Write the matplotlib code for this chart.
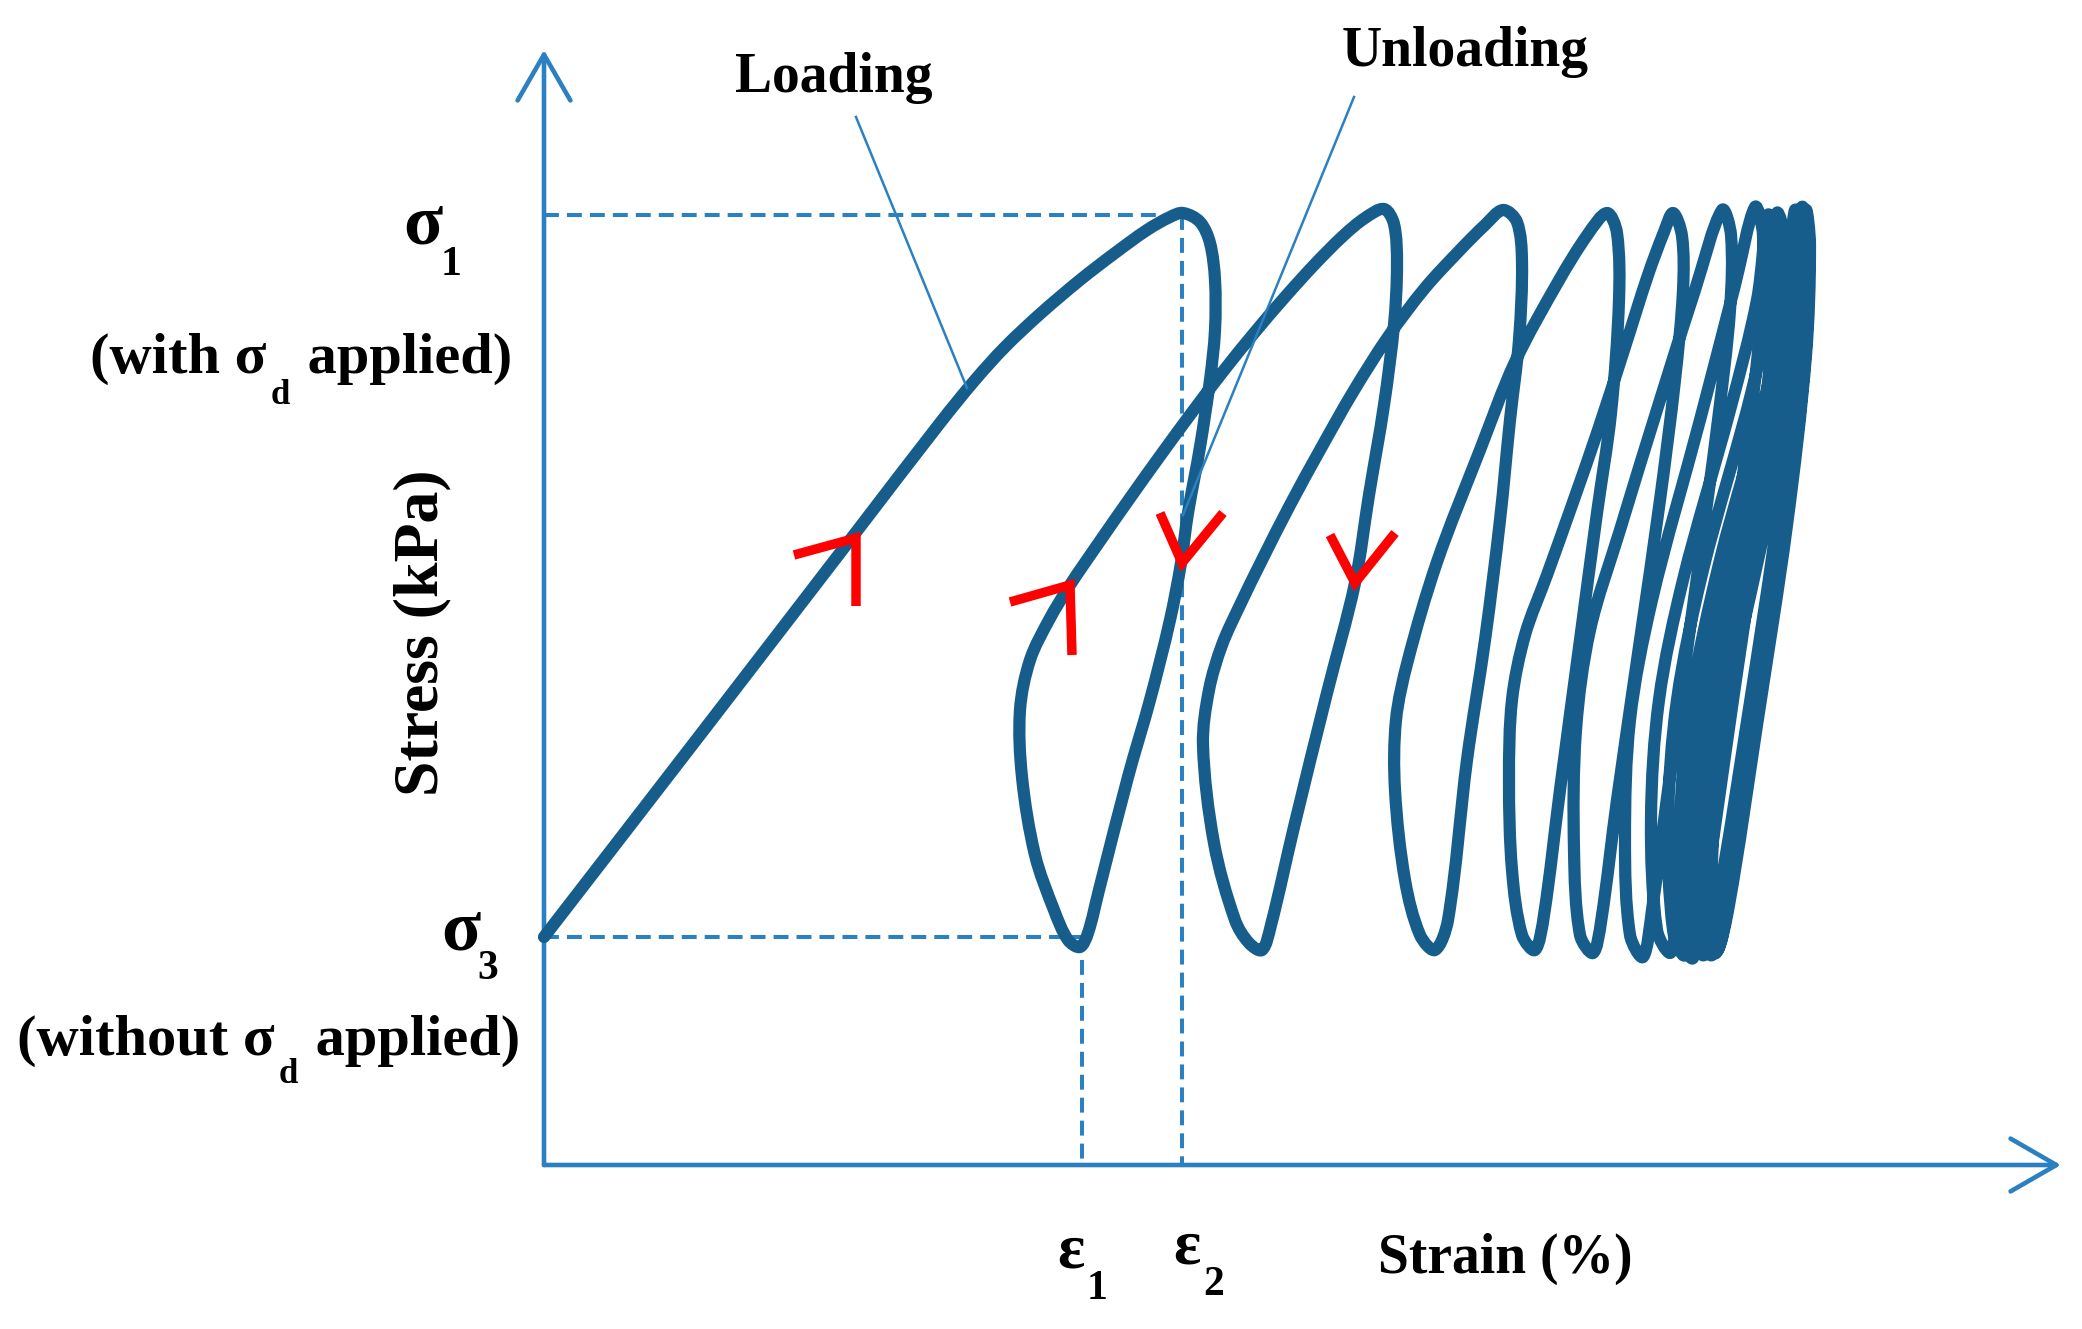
import numpy as np
import matplotlib
matplotlib.use("Agg")
import matplotlib.pyplot as plt
from matplotlib.path import Path
from matplotlib.patches import PathPatch

# ---------------- data (schematic units) ----------------
sigma1 = 9.50      # stress level with deviator stress applied
sigma3 = 2.28      # confining stress (without deviator stress)
eps1 = 5.38        # strain after first unloading
eps2 = 6.38        # strain at first peak

# repeated-load stress-strain path (waypoints)
strain = [0.00, 1.56, 3.16, 3.96, 4.31, 4.61, 4.96, 5.36, 5.71, 6.03, 6.26, 6.39,
          6.56, 6.66, 6.71, 6.71, 6.66, 6.56, 6.44, 6.37, 6.26, 6.06, 5.84, 5.55, 5.44, 5.36,
          5.24, 5.10, 4.91, 4.78, 4.76, 4.86, 5.05, 5.26,
          5.56, 5.86, 6.16, 6.49, 6.81, 7.11, 7.41, 7.71, 7.99, 8.21, 8.40,
          8.50, 8.53, 8.50, 8.40, 8.25, 8.11, 7.83, 7.50, 7.27, 7.18,
          7.05, 6.91, 6.70, 6.59, 6.65, 6.78, 6.96,
          7.18, 7.46, 7.76, 8.09, 8.44, 8.81, 9.16, 9.41, 9.59,
          9.73, 9.78, 9.75, 9.66, 9.56, 9.41, 9.23, 9.04, 8.91,
          8.76, 8.61, 8.51, 8.52, 8.64, 8.93,
          9.36, 9.71, 10.14, 10.44, 10.63,
          10.73, 10.75, 10.67, 10.53, 10.36, 10.16, 10.00, 9.91,
          9.78, 9.68, 9.65, 9.68, 9.81, 10.03,
          10.28, 10.54, 10.80, 11.04, 11.20, 11.29,
          11.38, 11.39, 11.31, 11.16, 10.96, 10.73, 10.57, 10.49,
          10.36, 10.30, 10.32, 10.46, 10.76,
          11.16, 11.51, 11.78,
          11.87, 11.86, 11.74, 11.54, 11.28, 11.08, 10.99,
          10.86, 10.81, 10.86, 11.08, 11.56, 11.91, 12.11,
          12.19, 12.16, 12.01, 11.76, 11.48, 11.32, 11.26,
          11.13, 11.07, 11.15, 11.39, 11.86, 12.13, 12.24,
          12.31, 12.28, 12.11, 11.84, 11.56, 11.41,
          11.29, 11.24, 11.33, 11.59, 12.08, 12.28, 12.33,
          12.41, 12.37, 12.18, 11.89, 11.63, 11.49,
          11.38, 11.36, 11.47, 11.76, 12.24, 12.44, 12.51,
          12.58, 12.54, 12.34, 12.04, 11.74, 11.60,
          11.48, 11.46, 11.56, 11.86, 12.34, 12.53, 12.58,
          12.65, 12.61, 12.41, 12.11, 11.82, 11.68,
          11.56, 11.56, 11.68, 11.98, 12.42, 12.58, 12.62,
          12.66, 12.62, 12.43, 12.13, 11.85, 11.72,
          11.62, 11.63, 11.76, 12.06, 12.48, 12.60, 12.62,
          12.65, 12.61, 12.42, 12.12, 11.84, 11.74,
          11.68, 11.70, 11.84, 12.14, 12.52, 12.61, 12.62,
          12.64, 12.59, 12.39, 12.09, 11.82, 11.72]
stress = [2.28, 4.30, 6.38, 7.42, 7.85, 8.18, 8.51, 8.85, 9.12, 9.35, 9.48, 9.52,
          9.43, 9.22, 8.85, 8.35, 7.85, 7.18, 6.52, 6.02, 5.45, 4.65, 3.88, 2.75, 2.32, 2.18,
          2.25, 2.55, 3.10, 3.88, 4.55, 5.05, 5.45, 5.80,
          6.24, 6.67, 7.09, 7.54, 7.96, 8.33, 8.68, 9.01, 9.29, 9.47, 9.56,
          9.41, 9.00, 8.40, 7.60, 6.70, 5.82, 4.72, 3.38, 2.40, 2.15,
          2.22, 2.45, 3.22, 4.20, 4.75, 5.20, 5.60,
          6.05, 6.60, 7.15, 7.73, 8.28, 8.77, 9.15, 9.40, 9.55,
          9.43, 9.03, 8.25, 7.45, 6.45, 5.25, 4.05, 2.45, 2.15,
          2.30, 2.85, 3.75, 4.45, 5.05, 6.03,
          7.15, 8.03, 8.83, 9.31, 9.52,
          9.32, 8.65, 7.52, 6.52, 5.25, 3.75, 2.50, 2.15,
          2.30, 2.95, 3.85, 4.65, 5.30, 5.90,
          6.60, 7.35, 8.15, 8.90, 9.33, 9.52,
          9.29, 8.75, 7.85, 6.65, 5.25, 3.65, 2.43, 2.12,
          2.30, 3.15, 4.35, 5.35, 6.35,
          7.65, 8.75, 9.55,
          9.30, 8.55, 7.45, 5.95, 4.05, 2.55, 2.08,
          2.30, 3.25, 4.45, 5.65, 7.45, 8.80, 9.58,
          9.30, 8.35, 7.05, 5.25, 3.25, 2.35, 2.12,
          2.35, 3.45, 4.65, 5.85, 7.55, 8.65, 9.50,
          9.25, 8.25, 6.75, 4.75, 2.85, 2.10,
          2.35, 3.45, 4.65, 5.95, 7.75, 8.75, 9.52,
          9.25, 8.25, 6.65, 4.65, 2.85, 2.07,
          2.35, 3.45, 4.65, 6.05, 7.80, 8.85, 9.55,
          9.25, 8.20, 6.50, 4.50, 2.65, 2.10,
          2.35, 3.45, 4.65, 6.05, 7.80, 8.93, 9.58,
          9.25, 8.20, 6.45, 4.45, 2.65, 2.10,
          2.35, 3.45, 4.65, 6.05, 7.85, 9.00, 9.55,
          9.20, 8.10, 6.40, 4.40, 2.60, 2.12,
          2.33, 3.45, 4.65, 6.05, 7.85, 9.00, 9.53,
          9.15, 8.05, 6.40, 4.40, 2.60, 2.15,
          2.30, 3.45, 4.65, 6.05, 7.85, 9.00, 9.51,
          9.15, 8.05, 6.40, 4.40, 2.60, 2.17]

# red direction arrows: (arm start, vertex, arm end)
arrow_x = [[2.50, 3.12, 3.12], [4.66, 5.26, 5.28], [6.16, 6.38, 6.79], [7.86, 8.11, 8.51]]
arrow_y = [[6.10, 6.27, 5.59], [5.63, 5.80, 5.10], [6.52, 6.02, 6.52], [6.30, 5.82, 6.32]]

# ---------------- style ----------------
CURVE = "#175d8c"
AXIS = "#2b80c2"
RED = "#ff0000"
FONT = "Liberation Serif"

fig = plt.figure(figsize=(20.82, 13.29), dpi=100)
ax = fig.add_axes([0, 0, 1, 1])
ax.set_xlim(-5.44, 15.38)
ax.set_ylim(-1.64, 11.65)
ax.axis("off")


def smooth_path(xs, ys):
    """Chord-length Catmull-Rom through the waypoints, as cubic Bezier segments."""
    P = np.column_stack([xs, ys]).astype(float)
    n = len(P)
    verts = [P[0]]
    codes = [Path.MOVETO]
    for i in range(n - 1):
        p0 = P[i - 1] if i > 0 else P[i]
        p1, p2 = P[i], P[i + 1]
        p3 = P[i + 2] if i + 2 < n else P[i + 1]
        d0 = np.hypot(*(p1 - p0))
        d1 = np.hypot(*(p2 - p1))
        d2 = np.hypot(*(p3 - p2))
        m1 = (p2 - p0) / (d0 + d1)
        m2 = (p3 - p1) / (d1 + d2)
        verts += [p1 + m1 * d1 / 3.0, p2 - m2 * d1 / 3.0, p2]
        codes += [Path.CURVE4] * 3
    return Path(verts, codes)


# axes with open arrow heads
arrow_kw = dict(arrowstyle="->,head_length=3.3,head_width=1.9", lw=3.3, color=AXIS,
                shrinkA=0, shrinkB=0, mutation_scale=10, capstyle="round")
ax.annotate("", xy=(15.17, 0), xytext=(0, 0), arrowprops=arrow_kw)
ax.annotate("", xy=(0, 11.15), xytext=(0, 0), arrowprops=arrow_kw)

# dashed reference lines
dash = dict(color=AXIS, lw=2.9, linestyle=(0, (3.7, 2.0)))
ax.plot([0, eps2], [sigma1, sigma1], **dash)
ax.plot([eps2, eps2], [sigma1, 0], **dash)
ax.plot([0, eps1], [sigma3, sigma3], **dash)
ax.plot([eps1, eps1], [sigma3, 0], **dash)

# main stress-strain curve
ax.add_patch(PathPatch(smooth_path(strain, stress), fill=False, edgecolor=CURVE,
                       lw=8.8, capstyle="round", joinstyle="round", zorder=3))

# red direction markers
for xs, ys in zip(arrow_x, arrow_y):
    ax.plot(xs, ys, color=RED, lw=6.8, solid_joinstyle="miter", solid_capstyle="butt", zorder=4)

# leader lines
ax.plot([3.12, 4.23], [10.48, 7.77], color=AXIS, lw=1.8, zorder=5)
ax.plot([8.10, 6.39], [10.68, 6.50], color=AXIS, lw=1.8, zorder=5)

tk = dict(family=FONT, fontweight="bold", color="black")
ax.text(2.90, 10.73, "Loading", ha="center", va="baseline", fontsize=40, **tk)
ax.text(9.21, 10.99, "Unloading", ha="center", va="baseline", fontsize=40, **tk)
ax.text(9.61, -1.08, "Strain (%)", ha="center", va="baseline", fontsize=40, **tk)
ax.text(-1.22, 5.32, "Stress (kPa)", ha="center", va="center", rotation=90, fontsize=46, **tk)

# epsilon labels
ax.text(5.13, -1.02, "ε", ha="left", va="baseline", fontsize=46, **tk)
ax.text(5.43, -1.34, "1", ha="left", va="baseline", fontsize=30, **tk)
ax.text(6.29, -0.98, "ε", ha="left", va="baseline", fontsize=46, **tk)
ax.text(6.59, -1.30, "2", ha="left", va="baseline", fontsize=30, **tk)

# sigma labels
ax.text(-1.41, 9.22, "σ", ha="left", va="baseline", fontsize=52, **tk)
ax.text(-1.03, 8.90, "1", ha="left", va="baseline", fontsize=30, **tk)
ax.text(-1.03, 2.16, "σ", ha="left", va="baseline", fontsize=52, **tk)
ax.text(-0.67, 1.86, "3", ha="left", va="baseline", fontsize=30, **tk)


def sub_label(x, y, y_sub, pre, sub, post, size=42, sub_size=25):
    t1 = ax.text(x, y, pre, ha="left", va="baseline", fontsize=size, **tk)
    t2 = ax.annotate(sub, xy=(1, y_sub), xycoords=(t1, "data"), xytext=(3, 0),
                     textcoords="offset points", ha="left", va="baseline",
                     fontsize=sub_size, **tk)
    ax.annotate(post, xy=(1, y), xycoords=(t2, "data"), xytext=(2, 0),
                textcoords="offset points", ha="left", va="baseline",
                fontsize=size, **tk)


sub_label(-4.54, 7.92, 7.61, "(with σ", "d", " applied)")
sub_label(-5.27, 1.10, 0.82, "(without σ", "d", " applied)")

fig.savefig("out.png", dpi=100)
